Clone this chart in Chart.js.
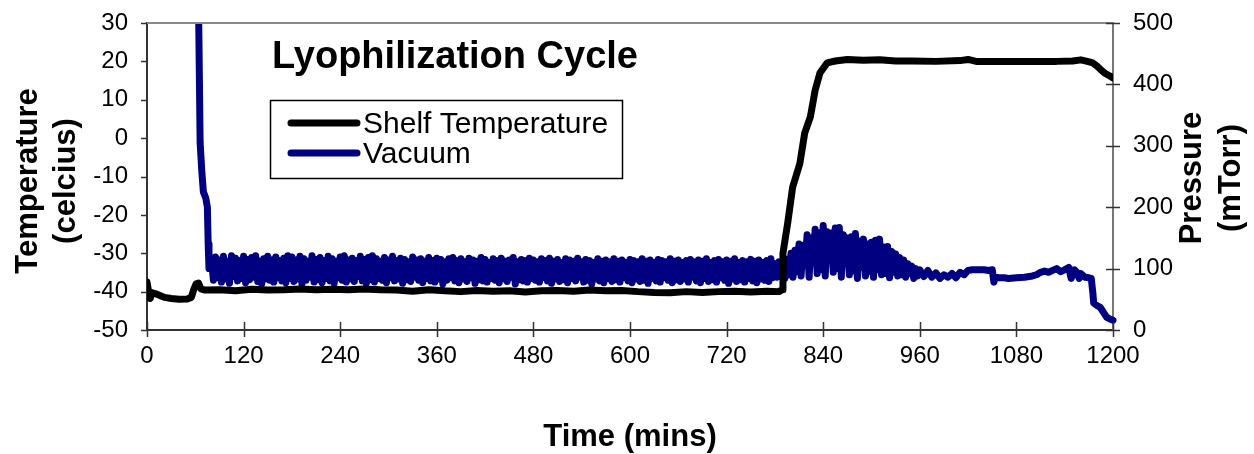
<!DOCTYPE html>
<html>
<head>
<meta charset="utf-8">
<script src="https://cdn.jsdelivr.net/npm/chart.js@4/dist/chart.umd.min.js"></script>
<style>
  html, body { margin: 0; padding: 0; background: #fff; }
  #wrap { width: 1254px; height: 454px; }
</style>
</head>
<body>
<div id="wrap"><canvas id="lyoChart" width="1254" height="454"></canvas></div>
<script>
// Shelf temperature log (mins, celcius)
const shelfTimes = [0, 2, 4, 6, 10, 16, 22, 30, 40, 50, 55, 58, 61, 64, 67, 72,
  90, 110, 130, 150, 170, 190, 210, 230, 250, 270, 290, 310, 330, 350, 370, 390,
  410, 430, 450, 470, 490, 510, 530, 550, 570, 590, 610, 630, 650, 670, 690, 710,
  730, 750, 770, 785, 789, 790, 796, 802, 811, 817, 824, 830, 836, 845, 855, 870,
  890, 910, 930, 950, 980, 1010, 1020, 1030, 1060, 1100, 1130, 1150, 1160, 1168,
  1175, 1180, 1185, 1190, 1195, 1200];
const shelfTemps = [-37.5, -40, -41.8, -40.3, -40.5, -41, -41.5, -41.8, -42, -41.9, -41.5, -39.5, -38, -37.8, -39.3, -39.6,
  -39.5, -39.8, -39.4, -39.6, -39.5, -39.3, -39.5, -39.4, -39.5, -39.3, -39.5, -39.6, -39.9, -39.5, -39.8, -40,
  -39.7, -39.9, -39.8, -40.1, -39.8, -39.7, -39.9, -39.6, -39.8, -39.7, -40, -40.2, -40.3, -40, -40.2, -40,
  -39.9, -40.1, -39.9, -40, -39.5, -30, -22, -12.8, -6.6, 1.3, 5.5, 12.5, 17, 19.6, 20.1, 20.5,
  20.3, 20.4, 20.1, 20.1, 20.0, 20.2, 20.5, 20.0, 20.0, 20.0, 20.0, 20.1, 20.4, 20.0,
  19.6, 18.8, 17.8, 16.9, 16.3, 15.7];

// Vacuum (mTorr): pump-down, off scale before ~63 mins
const vacStartTimes = [63, 65, 66, 68, 70, 73, 75, 76, 77];
const vacStartValues = [640, 420, 305, 260, 225, 215, 200, 140, 100];

// Vacuum controller swing, 80-955 mins: peak then trough in each 5-min window
const swingTimes = [80, 85, 90, 95, 100, 105, 110, 115, 120, 125, 130, 135, 140, 145, 150, 155, 160, 165, 170, 175,
  180, 185, 190, 195, 200, 205, 210, 215, 220, 225, 230, 235, 240, 245, 250, 255, 260, 265, 270, 275,
  280, 285, 290, 295, 300, 305, 310, 315, 320, 325, 330, 335, 340, 345, 350, 355, 360, 365, 370, 375,
  380, 385, 390, 395, 400, 405, 410, 415, 420, 425, 430, 435, 440, 445, 450, 455, 460, 465, 470, 475,
  480, 485, 490, 495, 500, 505, 510, 515, 520, 525, 530, 535, 540, 545, 550, 555, 560, 565, 570, 575,
  580, 585, 590, 595, 600, 605, 610, 615, 620, 625, 630, 635, 640, 645, 650, 655, 660, 665, 670, 675,
  680, 685, 690, 695, 700, 705, 710, 715, 720, 725, 730, 735, 740, 745, 750, 755, 760, 765, 770, 775,
  780, 785, 790, 795, 800, 805, 810, 815, 820, 825, 830, 835, 840, 845, 850, 855, 860, 865, 870, 875,
  880, 885, 890, 895, 900, 905, 910, 915, 920, 925, 930, 935, 940, 945, 950, 955];
const swingPeaks = [116, 119, 114, 120, 112, 121, 117, 113, 120, 115, 118, 121, 112, 116, 120, 114, 119, 113, 117, 121,
  119, 114, 120, 116, 112, 121, 115, 118, 113, 120, 116, 112, 119, 121, 114, 117, 113, 120, 115, 118,
  121, 116, 112, 118, 114, 120, 113, 117, 115, 111, 119, 114, 116, 112, 118, 113, 117, 115, 111, 116,
  118, 113, 116, 111, 117, 114, 112, 118, 115, 110, 116, 113, 117, 112, 114, 118, 111, 115, 113, 117,
  114, 111, 116, 113, 117, 112, 115, 110, 116, 114, 112, 117, 111, 115, 113, 110, 116, 112, 114, 111,
  116, 112, 114, 110, 115, 113, 111, 116, 112, 114, 110, 115, 113, 111, 116, 112, 114, 110, 113, 115,
  111, 114, 112, 116, 110, 113, 115, 111, 114, 112, 116, 110, 113, 111, 115, 112, 114, 110, 113, 116,
  108, 111, 112, 115, 125, 130, 140, 138, 155, 150, 164, 158, 170, 160, 158, 166, 167, 155, 150, 152,
  157, 145, 148, 140, 143, 146, 148, 135, 136, 128, 124, 118, 114, 108, 104, 100];
const swingTroughs = [81, 85, 78, 83, 76, 87, 80, 84, 77, 82, 86, 79, 75, 83, 81, 78, 85, 80, 77, 84,
  79, 83, 75, 81, 86, 78, 82, 77, 84, 80, 76, 85, 81, 78, 83, 79, 87, 80, 76, 82,
  78, 84, 81, 77, 85, 80, 83, 76, 82, 79, 86, 81, 77, 84, 80, 78, 83, 75, 81, 85,
  80, 77, 83, 79, 85, 76, 82, 80, 78, 84, 81, 77, 83, 79, 86, 75, 82, 80, 78, 84,
  81, 78, 85, 80, 76, 83, 79, 82, 77, 84, 80, 86, 78, 81, 75, 83, 80, 77, 84, 79,
  82, 78, 85, 80, 77, 83, 79, 81, 76, 84, 80, 78, 85, 81, 77, 82, 79, 83, 78, 86,
  80, 77, 84, 79, 82, 78, 85, 81, 76, 83, 79, 82, 78, 84, 80, 77, 83, 81, 79, 85,
  86, 88, 84, 90, 86, 95, 88, 105, 86, 110, 92, 98, 88, 115, 94, 100, 86, 108, 90, 96,
  84, 102, 88, 95, 86, 98, 90, 92, 85, 94, 88, 90, 86, 92, 84, 88];

// Vacuum (mTorr): secondary drying and end of cycle
const vacLateTimes = [960, 965, 970, 975, 980, 985, 990, 995, 1000, 1005, 1010, 1015, 1020, 1025, 1030, 1040, 1045, 1050,
  1052, 1054, 1058, 1065, 1070, 1080, 1090, 1100, 1105, 1110, 1115, 1120, 1125, 1130, 1135, 1140,
  1145, 1148, 1152, 1155, 1158, 1160, 1165, 1170, 1173, 1175, 1176, 1180, 1184, 1188, 1192, 1196, 1200];
const vacLateValues = [98, 87, 97, 86, 93, 84, 90, 86, 92, 85, 94, 90, 97, 98, 98, 98, 97, 98,
  78, 86, 85, 85, 84, 85, 86, 88, 90, 94, 96, 94, 97, 100, 95, 98,
  102, 84, 98, 94, 84, 92, 86, 85, 84, 60, 44, 40, 37, 29, 21, 18, 16];

const xTicks = [0, 120, 240, 360, 480, 600, 720, 840, 960, 1080, 1200];
const tempTicks = [-50, -40, -30, -20, -10, 0, 10, 20, 30];
const pressureTicks = [0, 100, 200, 300, 400, 500];

const FONT = '"Liberation Sans", Arial, sans-serif';

function pairs(xs, ys) {
  return xs.map((x, i) => ({ x: x, y: ys[i] }));
}

function vacuumPoints() {
  const pts = pairs(vacStartTimes, vacStartValues);
  swingTimes.forEach((t, i) => {
    pts.push({ x: t, y: swingPeaks[i] });
    pts.push({ x: t + 2.5, y: swingTroughs[i] });
  });
  return pts.concat(pairs(vacLateTimes, vacLateValues));
}

// titles, legend, crossing tick marks and the top frame line
const decorPlugin = {
  id: "decor",
  afterDraw(chart) {
    const { ctx, chartArea: a, scales } = chart;
    ctx.save();

    // top frame
    ctx.strokeStyle = "#888";
    ctx.lineWidth = 2;
    ctx.beginPath();
    ctx.moveTo(a.left, a.top);
    ctx.lineTo(a.right, a.top);
    ctx.stroke();

    // tick marks
    ctx.strokeStyle = "#333";
    ctx.lineWidth = 1.5;
    ctx.beginPath();
    xTicks.forEach(v => {
      const px = Math.round(scales.x.getPixelForValue(v)) + 0.5;
      ctx.moveTo(px, a.bottom - 8);
      ctx.lineTo(px, a.bottom + 7);
    });
    tempTicks.forEach(v => {
      const py = Math.round(scales.y.getPixelForValue(v)) + 0.5;
      ctx.moveTo(a.left - 6, py);
      ctx.lineTo(a.left, py);
    });
    pressureTicks.forEach(v => {
      const py = Math.round(scales.y2.getPixelForValue(v)) + 0.5;
      ctx.moveTo(a.right - 7, py);
      ctx.lineTo(a.right + 7, py);
    });
    ctx.stroke();

    ctx.fillStyle = "#000";
    ctx.textBaseline = "alphabetic";

    // chart title
    ctx.font = "bold 38px " + FONT;
    ctx.textAlign = "left";
    ctx.fillText("Lyophilization Cycle", 272, 68);

    // axis titles
    ctx.font = "bold 31px " + FONT;
    ctx.textAlign = "center";
    ctx.fillText("Time (mins)", (a.left + a.right) / 2, 446);

    const vTitle = (lines, xs, cy) => {
      lines.forEach((txt, i) => {
        ctx.save();
        ctx.translate(xs[i], cy);
        ctx.rotate(-Math.PI / 2);
        ctx.fillText(txt, 0, 0);
        ctx.restore();
      });
    };
    vTitle(["Temperature", "(celcius)"], [37, 75], 181);
    vTitle(["Pressure", "(mTorr)"], [1201, 1240], 178);

    // legend
    ctx.fillStyle = "#fff";
    ctx.fillRect(270, 100, 352, 78);
    ctx.strokeStyle = "#000";
    ctx.lineWidth = 1.5;
    ctx.strokeRect(270.5, 100.5, 352, 78);
    ctx.font = "30px " + FONT;
    ctx.textAlign = "left";
    const rows = [123, 153];
    chart.data.datasets.forEach((ds, i) => {
      ctx.strokeStyle = ds.borderColor;
      ctx.lineWidth = 7;
      ctx.lineCap = "round";
      ctx.beginPath();
      ctx.moveTo(291, rows[i]);
      ctx.lineTo(357, rows[i]);
      ctx.stroke();
      ctx.fillStyle = "#000";
      ctx.fillText(ds.label, 363, rows[i] + 10);
    });

    ctx.restore();
  }
};

const noPad = s => { s.paddingTop = 0; s.paddingBottom = 0; };

const ctx = document.getElementById("lyoChart").getContext("2d");
const lyoChart = new Chart(ctx, {
  type: "line",
  data: {
    datasets: [
      {
        label: "Shelf Temperature",
        data: pairs(shelfTimes, shelfTemps),
        yAxisID: "y",
        borderColor: "#000000",
        borderWidth: 7,
        borderCapStyle: "round",
        borderJoinStyle: "round",
        pointRadius: 0,
        tension: 0
      },
      {
        label: "Vacuum",
        data: vacuumPoints(),
        yAxisID: "y2",
        borderColor: "#000080",
        borderWidth: 7,
        borderCapStyle: "round",
        borderJoinStyle: "round",
        pointRadius: 0,
        tension: 0,
        clip: { left: 4, right: 4, top: 0, bottom: 4 }
      }
    ]
  },
  options: {
    responsive: false,
    animation: false,
    layout: { padding: { top: 23, left: 0, right: 0, bottom: 0 } },
    plugins: { legend: { display: false }, tooltip: { enabled: false } },
    scales: {
      x: {
        type: "linear",
        min: 0, max: 1200,
        afterBuildTicks: s => { s.ticks = xTicks.map(v => ({ value: v })); },
        afterFit: s => { s.height = 124; },
        ticks: { color: "#000", font: { family: FONT, size: 24 }, padding: 12, maxRotation: 0, autoSkip: false,
                 callback: v => String(v) },
        grid: { drawOnChartArea: false, drawTicks: false },
        border: { color: "#333", width: 2 }
      },
      y: {
        position: "left",
        min: -50, max: 30,
        afterBuildTicks: s => { s.ticks = tempTicks.map(v => ({ value: v })); },
        afterFit: s => { s.width = 147; noPad(s); },
        ticks: { color: "#000", font: { family: FONT, size: 24 }, padding: 19 },
        grid: { drawOnChartArea: false, drawTicks: false },
        border: { color: "#333", width: 2 }
      },
      y2: {
        position: "right",
        min: 0, max: 500,
        afterBuildTicks: s => { s.ticks = pressureTicks.map(v => ({ value: v })); },
        afterFit: s => { s.width = 141; noPad(s); },
        ticks: { color: "#000", font: { family: FONT, size: 24 }, padding: 20 },
        grid: { drawOnChartArea: false, drawTicks: false },
        border: { color: "#777", width: 2 }
      }
    }
  },
  plugins: [decorPlugin]
});
</script>
</body>
</html>
